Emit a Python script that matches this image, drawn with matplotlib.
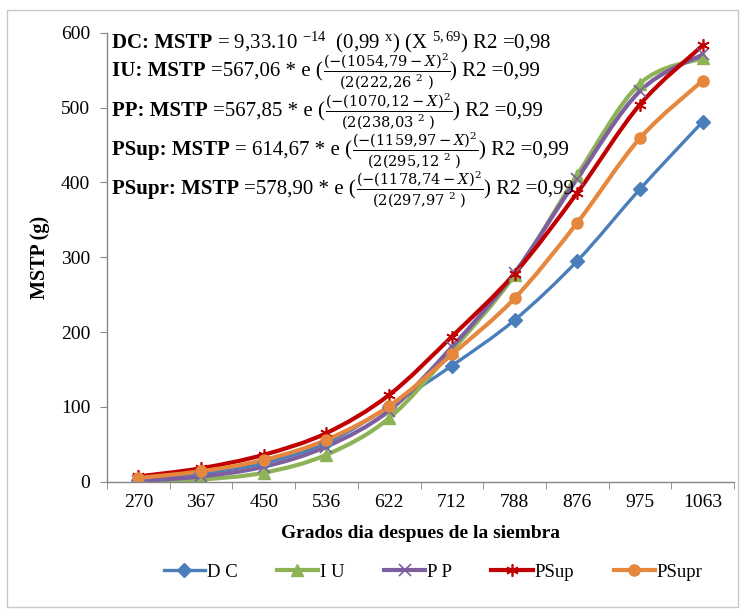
import numpy as np
import matplotlib
matplotlib.use('Agg')
import matplotlib.pyplot as plt
from matplotlib.path import Path
from matplotlib.patches import PathPatch, Rectangle
from matplotlib.lines import Line2D

plt.rcParams['font.family'] = 'Liberation Serif'
plt.rcParams['mathtext.fontset'] = 'custom'
plt.rcParams['mathtext.rm'] = 'Liberation Serif'
plt.rcParams['mathtext.it'] = 'Liberation Serif:italic'
plt.rcParams['mathtext.bf'] = 'Liberation Serif:bold'

# data
grados = ['270', '367', '450', '536', '622', '712', '788', '876', '975', '1063']
dc = [2, 11, 25, 52, 100, 155, 216, 295, 391, 481]
iu = [0, 3, 12, 36, 85, 175, 276, 410, 532, 566]
pp = [1, 7, 20, 47, 95, 180, 279, 405, 522, 571]
psup = [7, 18, 36, 65, 116, 194, 278, 386, 504, 583]
psupr = [5, 14, 29, 56, 101, 170, 245, 346, 459, 536]

series = [
    ('D C', dc, '#4A7EBB', 'D', 7, 2.4),
    ('I U', iu, '#8EB357', '^', 8, 3.0),
    ('P P', pp, '#7D5FA0', 'x', 8, 3.0),
    ('PSup', psup, '#C00000', (6, 2, 0), 9, 3.0),
    ('PSupr', psupr, '#E6873E', 'o', 8, 3.0),
]


def smooth_path(xs, ys):
    # excel style smoothed line (catmull-rom as cubic bezier)
    pts = np.column_stack([xs, ys]).astype(float)
    n = len(pts)
    verts = [pts[0]]
    codes = [Path.MOVETO]
    for i in range(n - 1):
        p0 = pts[i - 1] if i > 0 else pts[i]
        p1 = pts[i]
        p2 = pts[i + 1]
        p3 = pts[i + 2] if i + 2 < n else pts[i + 1]
        c1 = p1 + (p2 - p0) / 6.0
        c2 = p2 - (p3 - p1) / 6.0
        verts += [c1, c2, p2]
        codes += [Path.CURVE4] * 3
    return Path(verts, codes)


W, H = 745, 611
fig = plt.figure(figsize=(W / 100, H / 100), dpi=100)
ax = fig.add_axes([107 / W, 1 - 481.7 / H, 627 / W, 449 / H])

x = np.arange(len(grados))
handles = []
for name, vals, col, mk, ms, lw in series:
    ax.add_patch(PathPatch(smooth_path(x, vals), fill=False, edgecolor=col,
                           lw=lw, capstyle='round', joinstyle='round'))
    mew = 1.2 if mk in ('x', (6, 2, 0)) else 1
    ax.plot(x, vals, linestyle='none', marker=mk, markersize=ms, color=col,
            markeredgecolor=col, markeredgewidth=mew)
    handles.append(Line2D([], [], color=col, lw=lw, marker=mk, markersize=ms,
                          markeredgewidth=mew))

ax.set_xlim(-0.5, len(grados) - 0.5)
ax.set_ylim(0, 600)
ax.set_yticks(np.arange(0, 601, 100))
ax.set_xticks(x)
ax.set_xticklabels(grados)
ax.set_xticks(np.arange(-0.5, len(grados)), minor=True)
ax.tick_params(axis='x', which='major', length=0, labelsize=14, pad=9)
ax.tick_params(axis='x', which='minor', length=5, color='#868686')
ax.tick_params(axis='y', length=5, color='#868686', labelsize=14, pad=7)
for s in ['top', 'right']:
    ax.spines[s].set_visible(False)
for s in ['left', 'bottom']:
    ax.spines[s].set_color('#868686')
    ax.spines[s].set_linewidth(1)

ax.set_ylabel('MSTP (g)', fontsize=14.5, fontweight='bold', labelpad=8)
ax.set_xlabel('Grados dia despues de la siembra', fontsize=14, fontweight='bold', labelpad=10)


# equations: (baseline y px, [(text, kind)])
def frac(num, den):
    return r'$\dfrac{%s}{%s}$' % (num, den)


eqs = [
    (48, [('DC: MSTP', 'b'), (r'= 9,33.10 $^{-14}$  (0,99 $^{\mathrm{x}}$) (X $^{5,69}$) R2 =0,98', 'r')]),
    (76, [('IU: MSTP', 'b'), ('=567,06 * e (', 'r'),
          (frac(r'(-(1054{,}79-X)^2', r'(2(222{,}26\ ^2\ )'), 'f'), (') R2 =0,99', 'r')]),
    (116, [('PP: MSTP', 'b'), ('=567,85 * e (', 'r'),
           (frac(r'(-(1070{,}12-X)^2', r'(2(238{,}03\ ^2\ )'), 'f'), (') R2 =0,99', 'r')]),
    (155, [('PSup: MSTP', 'b'), ('= 614,67 * e (', 'r'),
           (frac(r'(-(1159{,}97-X)^2', r'(2(295{,}12\ ^2\ )'), 'f'), (') R2 =0,99', 'r')]),
    (194, [('PSupr: MSTP', 'b'), ('=578,90 * e (', 'r'),
           (frac(r'(-(1178{,}74-X)^2', r'(2(297{,}97\ ^2\ )'), 'f'), (') R2 =0,99', 'r')]),
]
renderer = fig.canvas.get_renderer()
for ypix, pieces in eqs:
    xpix = 112
    for txt, kind in pieces:
        if kind == 'b':
            t = fig.text(xpix / W, 1 - ypix / H, txt, fontsize=15, fontweight='bold', va='baseline')
        elif kind == 'f':
            t = fig.text(xpix / W, 1 - ypix / H, txt, fontsize=10.5, va='baseline',
                         math_fontfamily='dejavuserif')
        else:
            t = fig.text(xpix / W, 1 - ypix / H, txt, fontsize=15, va='baseline')
        bb = t.get_window_extent(renderer)
        xpix = bb.x1 + (5 if kind == 'b' else 0.5)

fig.legend(handles, [s[0] for s in series], loc='center', ncol=5, frameon=False,
           bbox_to_anchor=(433 / W, 1 - 572 / H), fontsize=13.5,
           handlelength=2.2, columnspacing=2.1, handletextpad=0.1)

fig.add_artist(Rectangle((7 / W, 4 / H), 731 / W, 597 / H, transform=fig.transFigure,
                         fill=False, edgecolor='#C8C8C8', lw=1))

plt.savefig('out.png', dpi=100)
